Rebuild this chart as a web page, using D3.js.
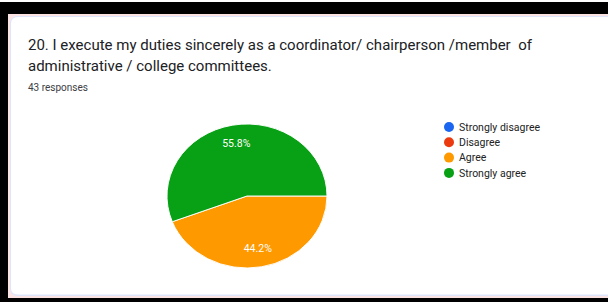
<!DOCTYPE html>
<html>
<head>
<meta charset="utf-8">
<script src="https://cdn.jsdelivr.net/npm/d3@7"></script>
<style>
  body { margin: 0; background: #fff; }
  svg { display: block; font-family: Roboto, Arial, sans-serif; }
  text { white-space: pre; }
</style>
</head>
<body>
<svg width="608" height="302"></svg>
<script>
// chart data
var categories = ["Strongly disagree", "Disagree", "Agree", "Strongly agree"];
var counts = [0, 0, 19, 24];
var colors = ["#1a66f0", "#eb3a10", "#ff9900", "#08a014"];
var title1 = "20. I execute my duties sincerely as a coordinator/ chairperson /member  of";
var title2 = "administrative / college committees.";
var responses = "43 responses";

var svg = d3.select("svg");
var total = d3.sum(counts);

// frame + card
svg.append("rect").attr("x", 0).attr("y", 2).attr("width", 608).attr("height", 300).attr("fill", "#000");
svg.append("rect").attr("x", 8).attr("y", 14).attr("width", 600).attr("height", 284).attr("fill", "#fde4e4");
svg.append("path")
   .attr("d", "M10,24 Q10,16 18,16 L608,16 L608,296 L18,296 Q10,296 10,288 Z")
   .attr("fill", "#dde6fb");
svg.append("path")
   .attr("d", "M11,24 Q11,17 18,17 L608,17 L608,294.5 L18,294.5 Q11,294.5 11,288 Z")
   .attr("fill", "#fff");

// titles
svg.append("text").attr("x", 28).attr("y", 50).attr("font-size", "15px").attr("fill", "#202124").text(title1);
svg.append("text").attr("x", 28).attr("y", 71).attr("font-size", "15px").attr("fill", "#202124").text(title2);
svg.append("text").attr("x", 28).attr("y", 91).attr("font-size", "10px").attr("fill", "#3c4043").text(responses);

// pie
var r = 80;
var pie = d3.pie().sort(null).startAngle(Math.PI / 2).endAngle(Math.PI / 2 + 2 * Math.PI);
var arcs = pie(counts);
var arc = d3.arc().innerRadius(0).outerRadius(r);
var labelArc = d3.arc().innerRadius(r * 0.74).outerRadius(r * 0.74);

var g = svg.append("g").attr("transform", "translate(247,196) scale(1,0.9)");

g.selectAll("path.slice")
 .data(arcs.filter(function(d) { return d.value > 0; }))
 .enter()
 .append("path")
 .attr("class", "slice")
 .attr("d", arc)
 .attr("fill", function(d) { return colors[d.index]; })
 .attr("stroke", "#fff")
 .attr("stroke-width", 1);

g.selectAll("text.pct")
 .data(arcs.filter(function(d) { return d.value > 0; }))
 .enter()
 .append("text")
 .attr("class", "pct")
 .attr("transform", function(d) {
     var c = labelArc.centroid(d);
     return "translate(" + c[0] + "," + c[1] + ") scale(1," + (1 / 0.9) + ")";
 })
 .attr("text-anchor", "middle")
 .attr("dy", "0.35em")
 .attr("font-size", "10.5px")
 .attr("fill", "#fff")
 .text(function(d) { return (d.value / total * 100).toFixed(1) + "%"; });

// legend
var leg = svg.append("g").attr("transform", "translate(449,127)");
var item = leg.selectAll("g")
   .data(categories)
   .enter()
   .append("g")
   .attr("transform", function(d, i) { return "translate(0," + (i * 15.3) + ")"; });
item.append("circle").attr("r", 5).attr("fill", function(d, i) { return colors[i]; });
item.append("text")
    .attr("x", 10)
    .attr("dy", "0.35em")
    .attr("font-size", "10.5px")
    .attr("fill", "#222")
    .text(function(d) { return d; });
</script>
</body>
</html>
